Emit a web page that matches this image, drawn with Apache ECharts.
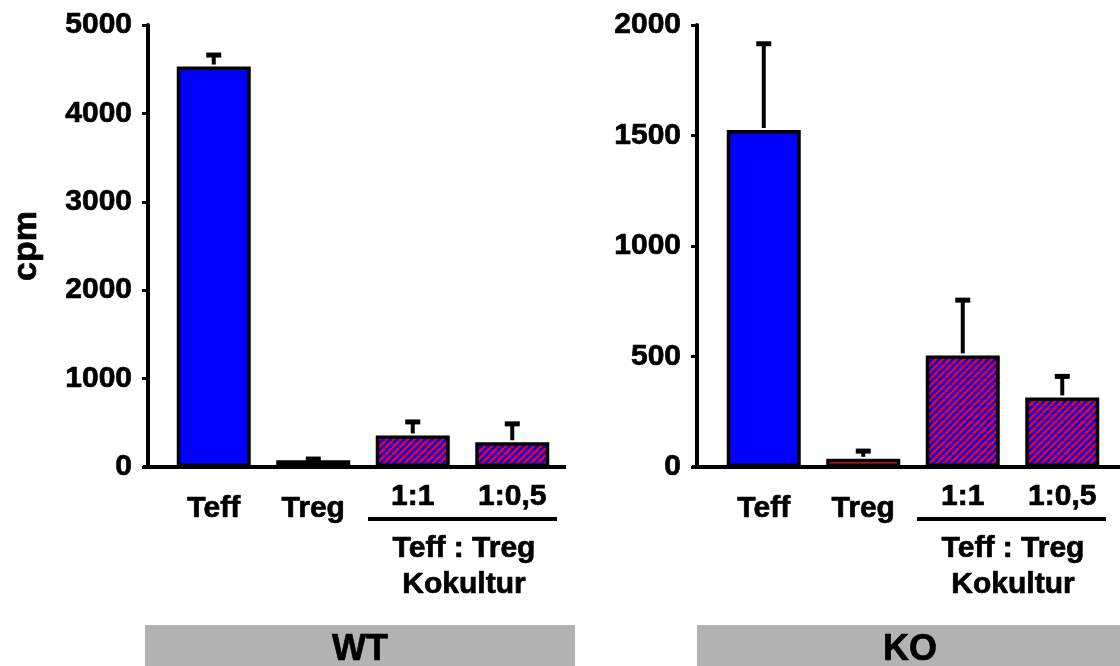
<!DOCTYPE html>
<html>
<head>
<meta charset="utf-8">
<script src="https://cdn.jsdelivr.net/npm/echarts@6/dist/echarts.min.js"></script>
<style>
html,body{margin:0;padding:0;background:#fff;}
#chart{width:1120px;height:666px;}
</style>
</head>
<body>
<div id="chart"></div>
<script>
// ---- data ----
const categories = ['Teff', 'Treg', '1:1', '1:0,5'];
const wtMeans = [4530, 75, 357, 280];
const wtErrors = [130, 15, 153, 208];
const koMeans = [1525, 37, 505, 315];
const koErrors = [390, 35, 250, 95];
const wtAxis = { min: 0, max: 5000, interval: 1000 };
const koAxis = { min: 0, max: 2000, interval: 500 };
const yAxisTitle = 'cpm';
const groupTitles = ['WT', 'KO'];
const cocultureLabel = ['Teff : Treg', 'Kokultur'];

// ---- styles ----
const FONT = '"Liberation Sans", Arial, Helvetica, sans-serif';
const FS = 30;
const TB = 0.7; // text thickening

function makeHatch() {
  const c = document.createElement('canvas');
  const s = 7;
  c.width = s; c.height = s;
  const g = c.getContext('2d');
  g.fillStyle = '#0000ff';
  g.fillRect(0, 0, s, s);
  g.strokeStyle = '#ff0000';
  g.lineWidth = 2.4;
  for (let k = -1; k <= 1; k++) {
    g.beginPath();
    g.moveTo(k * s, s);
    g.lineTo(k * s + s, 0);
    g.stroke();
  }
  return c;
}
const hatch = { image: makeHatch(), repeat: 'repeat' };
const fills = ['#0000ff', '#e4152f', hatch, hatch];

function barData(means) {
  return means.map((v, i) => ({
    value: v,
    itemStyle: { color: fills[i], borderColor: '#000', borderWidth: 3.5 }
  }));
}
function errData(means, errs) {
  return means.map((v, i) => [i, v, errs[i]]);
}
function renderErr(params, api) {
  const i = api.value(0), m = api.value(1), e = api.value(2);
  const base = api.coord([i, m]);
  const top = api.coord([i, m + e]);
  return {
    type: 'group',
    children: [
      { type: 'line', shape: { x1: base[0], y1: base[1] - 2, x2: top[0], y2: top[1] },
        style: { stroke: '#000', lineWidth: 4 } },
      { type: 'line', shape: { x1: top[0] - 7.5, y1: top[1], x2: top[0] + 7.5, y2: top[1] },
        style: { stroke: '#000', lineWidth: 5 } }
    ]
  };
}

const baseText = { fontSize: FS, fontWeight: 'bold', fontFamily: FONT, color: '#000',
  textBorderColor: '#000', textBorderWidth: TB };
const labelRich = {
  a: Object.assign({}, baseText, { padding: [12, 0, 0, 0] }),
  b: Object.assign({}, baseText)
};

function xAxisCfg(gi) {
  return {
    type: 'category', gridIndex: gi, data: categories,
    axisLine: { lineStyle: { color: '#000', width: 4 } },
    axisTick: { show: false },
    axisLabel: {
      margin: 15, interval: 0,
      formatter: (v, idx) => (idx < 2 ? '{a|' + v + '}' : '{b|' + v + '}'),
      rich: labelRich
    }
  };
}
function yAxisCfg(gi, ax, off, withName) {
  const cfg = {
    type: 'value', gridIndex: gi, min: ax.min, max: ax.max, interval: ax.interval,
    offset: off,
    splitLine: { show: false },
    axisLine: { show: true, lineStyle: { color: '#000', width: 4 } },
    axisTick: { show: true, length: 6, lineStyle: { color: '#000', width: 3 } },
    axisLabel: Object.assign({ margin: 16, formatter: v => String(v) }, baseText)
  };
  if (withName) {
    cfg.name = yAxisTitle;
    cfg.nameLocation = 'middle';
    cfg.nameGap = 104;
    cfg.nameTextStyle = Object.assign({}, baseText, { fontSize: 34 });
  }
  return cfg;
}

function txt(x, y, t, size) {
  return { type: 'text', x: x, y: y, silent: true,
    style: { text: t, fontSize: size || FS, fontWeight: 'bold', fontFamily: FONT, fill: '#000',
      stroke: '#000', lineWidth: TB,
      align: 'center', verticalAlign: 'middle' } };
}
function hline(x1, x2, y, w) {
  return { type: 'line', silent: true, shape: { x1: x1, y1: y, x2: x2, y2: y },
    style: { stroke: '#000', lineWidth: w } };
}

const chart = echarts.init(document.getElementById('chart'), null, { renderer: 'canvas' });
chart.setOption({
  animation: false,
  backgroundColor: '#fff',
  textStyle: { fontFamily: FONT },
  grid: [
    { left: 164, top: 25, width: 398, height: 442 },
    { left: 714, top: 25, width: 398, height: 442 }
  ],
  xAxis: [xAxisCfg(0), xAxisCfg(1)],
  yAxis: [yAxisCfg(0, wtAxis, 16, true), yAxisCfg(1, koAxis, 17, false)],
  series: [
    { type: 'bar', xAxisIndex: 0, yAxisIndex: 0, barWidth: 74, data: barData(wtMeans), z: 2 },
    { type: 'custom', xAxisIndex: 0, yAxisIndex: 0, renderItem: renderErr, data: errData(wtMeans, wtErrors), z: 1 },
    { type: 'bar', xAxisIndex: 1, yAxisIndex: 1, barWidth: 74, data: barData(koMeans), z: 2 },
    { type: 'custom', xAxisIndex: 1, yAxisIndex: 1, renderItem: renderErr, data: errData(koMeans, koErrors), z: 1 }
  ],
  graphic: [
    hline(143, 166, 467, 4),
    hline(560, 566, 467, 4),
    hline(692, 716, 467, 4),
    hline(1110, 1120, 467, 4),
    hline(368, 557, 519, 4),
    hline(917, 1106, 519, 4),
    txt(464, 549, cocultureLabel[0]),
    txt(464, 585, cocultureLabel[1]),
    txt(1013, 549, cocultureLabel[0]),
    txt(1013, 585, cocultureLabel[1]),
    { type: 'rect', silent: true, shape: { x: 145, y: 625, width: 430, height: 41 }, style: { fill: '#b3b3b3' } },
    { type: 'rect', silent: true, shape: { x: 697, y: 625, width: 423, height: 41 }, style: { fill: '#b3b3b3' } },
    txt(360, 650, groupTitles[0], 36),
    txt(910, 650, groupTitles[1], 36)
  ]
});
</script>
</body>
</html>
